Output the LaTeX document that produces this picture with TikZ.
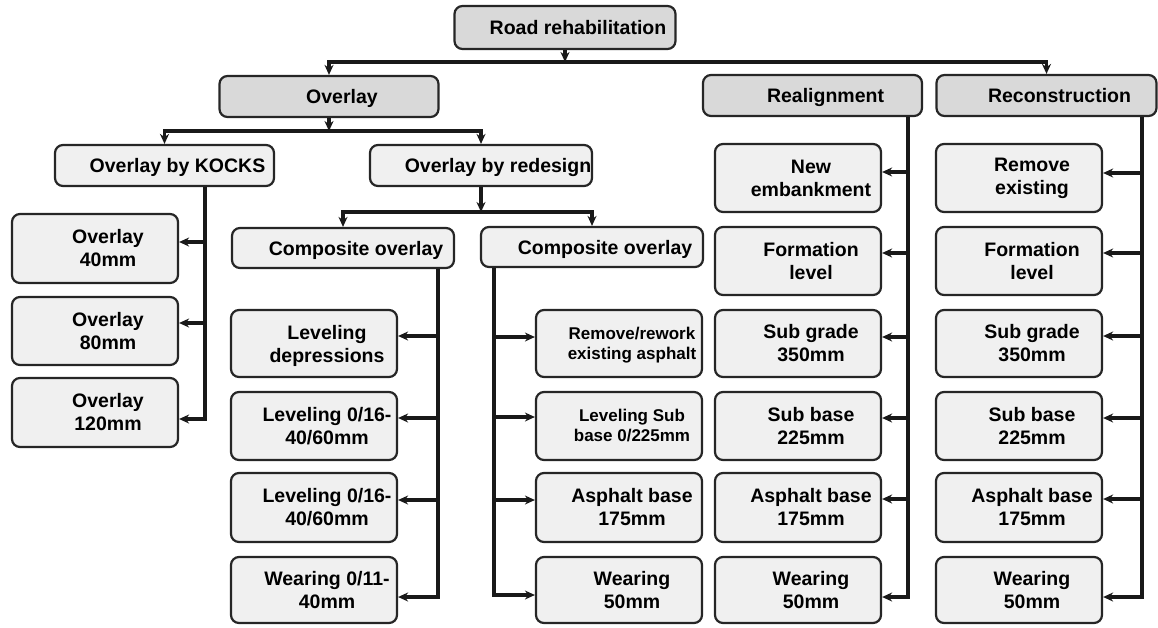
\documentclass[tikz,border=0pt]{standalone}
\usepackage{fontspec}
\setmainfont{Liberation Sans}
\usetikzlibrary{arrows.meta}

\tikzset{
  frame/.style={draw=black!85, line width=2.2pt, rounded corners=8pt, inner sep=0pt},
  topbox/.style={frame, fill=black!15},
  subbox/.style={frame, fill=black!6},
  txt/.style={font=\fontsize{19.5}{23}\selectfont\bfseries, align=center, inner sep=0pt, xshift=13pt},
  oneline/.style={txt, text height=14pt, text depth=0pt},
  smalltxt/.style={txt, font=\fontsize{17}{20}\selectfont\bfseries},
  link/.style={line width=3.2pt, draw=black!90},
  arr/.style={link, -{Stealth[length=10pt,width=9pt]}},
}

% box with its caption: style, name, x, y, width, height, caption style, caption
\newcommand\layerbox[8]{%
  \node[#1, minimum width=#5pt, minimum height=#6pt] (#2) at (#3,#4) {};
  \node[#7] (#2-t) at (#2) {#8};
}

\begin{document}
\begin{tikzpicture}[x=1pt,y=-1pt]
\useasboundingbox (0,0) rectangle (1158,627);

% ---- upper levels
\layerbox{topbox}{rr}{565}{27.5}{221}{43}{oneline}{Road rehabilitation}
\layerbox{topbox}{ov}{329}{96.5}{219}{41}{oneline}{Overlay}
\layerbox{topbox}{real}{812.5}{95.5}{219}{41}{oneline}{Realignment}
\layerbox{topbox}{recon}{1046.5}{95.5}{220}{41}{oneline}{Reconstruction}
\layerbox{subbox}{kocks}{164.5}{165.5}{219}{41}{oneline}{Overlay by KOCKS}
\layerbox{subbox}{redes}{481}{165.5}{222}{41}{oneline,xshift=4pt}{Overlay by redesign}
\layerbox{subbox}{compA}{343}{248}{222}{40}{oneline}{Composite overlay}
\layerbox{subbox}{compB}{592}{247}{222}{40}{oneline}{Composite overlay}

% ---- overlay by KOCKS
\layerbox{subbox}{oa}{95}{248.5}{166}{69}{txt}{Overlay\\40mm}
\layerbox{subbox}{ob}{95}{331}{166}{68}{txt}{Overlay\\80mm}
\layerbox{subbox}{oc}{95}{412.5}{166}{69}{txt}{Overlay\\120mm}

% ---- first composite overlay
\layerbox{subbox}{ca}{314}{343.5}{166}{67}{txt,yshift=-2pt}{Leveling\\depressions}
\layerbox{subbox}{cb}{314}{426}{166}{68}{txt}{Leveling 0/16-\\40/60mm}
\layerbox{subbox}{cc}{314}{507.5}{166}{69}{txt}{Leveling 0/16-\\40/60mm}
\layerbox{subbox}{cd}{314}{590}{166}{66}{txt}{Wearing 0/11-\\40mm}

% ---- second composite overlay
\layerbox{subbox}{da}{619}{343.5}{166}{67}{smalltxt,yshift=-2pt}{Remove/rework\\existing asphalt}
\layerbox{subbox}{db}{619}{426}{166}{68}{smalltxt}{Leveling Sub\\base 0/225mm}
\layerbox{subbox}{dc}{619}{507.5}{166}{69}{txt}{Asphalt base\\175mm}
\layerbox{subbox}{dd}{619}{590}{166}{66}{txt}{Wearing\\50mm}

% ---- realignment
\layerbox{subbox}{ea}{798}{178}{166}{68}{txt}{New\\embankment}
\layerbox{subbox}{eb}{798}{261}{166}{68}{txt}{Formation\\level}
\layerbox{subbox}{ec}{798}{343.5}{166}{67}{txt}{Sub grade\\350mm}
\layerbox{subbox}{ed}{798}{426}{166}{68}{txt}{Sub base\\225mm}
\layerbox{subbox}{ee}{798}{507.5}{166}{69}{txt}{Asphalt base\\175mm}
\layerbox{subbox}{ef}{798}{590}{166}{66}{txt}{Wearing\\50mm}

% ---- reconstruction
\layerbox{subbox}{fa}{1019}{178}{166}{68}{txt}{Remove\\existing}
\layerbox{subbox}{fb}{1019}{261}{166}{68}{txt}{Formation\\level}
\layerbox{subbox}{fc}{1019}{343.5}{166}{67}{txt}{Sub grade\\350mm}
\layerbox{subbox}{fd}{1019}{426}{166}{68}{txt}{Sub base\\225mm}
\layerbox{subbox}{fe}{1019}{507.5}{166}{69}{txt}{Asphalt base\\175mm}
\layerbox{subbox}{ff}{1019}{590}{166}{66}{txt}{Wearing\\50mm}

% ---- horizontal buses
\coordinate (busTop) at (565,62);
\draw[arr] (rr.south) -- (busTop);
\draw[arr] (busTop) -| (ov.north);
\draw[arr] (busTop) -| (recon.north);

\coordinate (busOv) at (329,131);
\draw[arr] (ov.south) -- (busOv);
\draw[arr] (busOv) -| (kocks.north);
\draw[arr] (busOv) -| (redes.north);

\coordinate (busRd) at (481,212);
\draw[arr] (redes.south) -- (busRd);
\draw[arr] (busRd) -| (compA.north);
\draw[arr] (busRd) -| (compB.north);

% ---- vertical spines
\coordinate (spK) at (205,0);
\coordinate (spA) at (438,0);
\coordinate (spB) at (494,0);
\coordinate (spR) at (908,0);
\coordinate (spC) at (1142,0);

% entry points of the branch arrows
\foreach \n/\s in {oa/6.5, ob/8, oc/-6.5,
                   ca/7.5, cb/8, cc/7.5, cd/-7,
                   ea/6, eb/8, ec/6.5, ed/8, ee/8.5, ef/-7,
                   fa/5, fb/8, fc/7.5, fd/8, fe/8.5, ff/-7}
  {\coordinate (\n-in) at ([yshift=\s pt]\n.east);}
\foreach \n/\s in {da/6.5, db/9, dc/7.5, dd/-5}
  {\coordinate (\n-in) at ([yshift=\s pt]\n.west);}

% spines ending in an elbow to the last box
\draw[arr] (spK |- kocks.south) |- (oc-in);
\draw[arr] (spA |- compA.south) |- (cd-in);
\draw[arr] (spB |- compB.south) |- (dd-in);
\draw[arr] (spR |- real.south) |- (ef-in);
\draw[arr] (spC |- recon.south) |- (ff-in);

% branches off the spines
\foreach \n in {oa, ob} {\draw[arr] (spK |- \n-in) -- (\n-in);}
\foreach \n in {ca, cb, cc} {\draw[arr] (spA |- \n-in) -- (\n-in);}
\foreach \n in {da, db, dc} {\draw[arr] (spB |- \n-in) -- (\n-in);}
\foreach \n in {ea, eb, ec, ed, ee} {\draw[arr] (spR |- \n-in) -- (\n-in);}
\foreach \n in {fa, fb, fc, fd, fe} {\draw[arr] (spC |- \n-in) -- (\n-in);}

\end{tikzpicture}
\end{document}
